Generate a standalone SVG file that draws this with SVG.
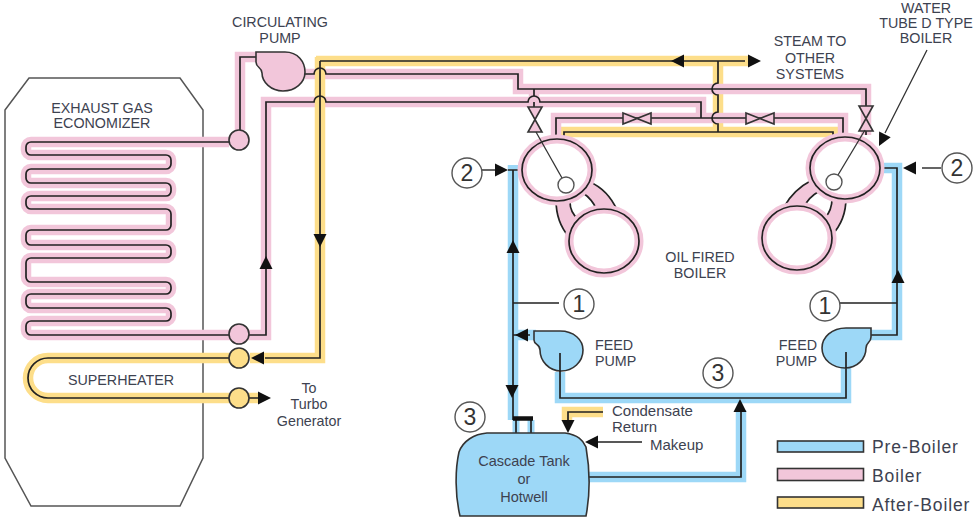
<svg xmlns="http://www.w3.org/2000/svg" width="974" height="517" viewBox="0 0 974 517">
<style>
text{font-family:"Liberation Sans",Arial,sans-serif;font-size:14.3px;fill:#3d4250}
.m{text-anchor:middle}
.n{font-size:15px}
.leg{font-size:17.500px;letter-spacing:.9px}
.num{font-size:23px;text-anchor:middle;fill:#333}
.b{fill:none;stroke-width:10.500;stroke-linejoin:miter}
.pk{stroke:#f2c6da}.bl{stroke:#9dd8f7}.yl{stroke:#fdde8a}
.l{fill:none;stroke:#222;stroke-width:1.7}
.thin{fill:none;stroke:#333;stroke-width:1.3}
.fp{fill:#f2c6da}.fb{fill:#9dd8f7}.fy{fill:#fdde8a}
.o{stroke:#333;stroke-width:1.6}
.c{fill:#fff;stroke:#555;stroke-width:1.4}
</style>
<defs>
<polygon id="ah" points="0,0 -13,-6.500 -13,6.500" fill="#111"/>
<path id="coil" d="M229,142H31a5,5 0 0 0 -5,5V150a5,5 0 0 0 5,5H166a5,5 0 0 1 5,5V164a5,5 0 0 1 -5,5H31a5,5 0 0 0 -5,5V178a5,5 0 0 0 5,5H166a5,5 0 0 1 5,5V191a5,5 0 0 1 -5,5H31a5,5 0 0 0 -5,5V204a5,5 0 0 0 5,5H166a5,5 0 0 1 5,5V225a5,5 0 0 1 -5,5H31a5,5 0 0 0 -5,5V240a5,5 0 0 0 5,5H166a5,5 0 0 1 5,5V253a5,5 0 0 1 -5,5H31a5,5 0 0 0 -5,5V277a5,5 0 0 0 5,5H166a5,5 0 0 1 5,5V289a5,5 0 0 1 -5,5H31a5,5 0 0 0 -5,5V303a5,5 0 0 0 5,5H166a5,5 0 0 1 5,5V316a5,5 0 0 1 -5,5H31a5,5 0 0 0 -5,5V330a5,5 0 0 0 5,5H229"/>
</defs>

<g id="casing"><polygon points="5,110 29,78 180,78 203,110 203,458 180,506 31,506 5,458" fill="none" stroke="#555" stroke-width="1.500"/></g>

<g id="connectors">
<path class="b yl" d="M316,61H750M718,61V132M564,137V132H833V137"/>
<use href="#coil" class="b pk"/>
<path class="b pk" d="M229,335H266V102H701V118M240,130V57H258M305,74H518V89H866V135M556,137V118H843V135M534,89V107"/>
<path class="b yl" d="M320,57V358H250M229,358H48a20,20 0 0 0 0,40H229M248,398H258"/>
<path class="b bl" d="M513,165V420M513,335H536M560,372V398H846V368M871,335H897V168H884M588,477H741V410"/>
<path d="M516,420V433M531,420V433" class="bl" stroke-width="7" fill="none"/>
<path class="b yl" d="M603,412H567V421"/>

<use href="#coil" class="l"/>
<path class="l" d="M229,335H266V102H314a6,6 0 0 1 12,0H528a6,6 0 0 1 12,0H701V118"/>
<path class="l" d="M240,130V57H257M305,74H314a6,6 0 0 1 12,0H518V89H866V107M866,131V135M534,89V96M534,102V107M843,135V118H556V137"/>
<path class="l" d="M320,61H745M718,61V83a6,6 0 0 0 0,12V112a6,6 0 0 0 0,12V132M564,137V132H833V137"/>
<path class="l" d="M320,61V358H265M229,358H48a20,20 0 0 0 0,40H229M249,398H258"/>
<path class="l" d="M513,170V420M513,335H530M560,353V398H846V352M871,335H897V168H880M588,477H741V410M513,303H559M840,303H897M516,420V433M531,420V433"/>
<path d="M513,418.500H533" stroke="#111" stroke-width="4.500" fill="none"/>
<path class="l" d="M603,412H568V425M642,442H595M508,170H522"/>
<path class="thin" d="M482,170H495M922,168H941M927,50L885,133"/>

<use href="#ah" transform="translate(320,247) rotate(90)"/>
<use href="#ah" transform="translate(266,256) rotate(-90)"/>
<use href="#ah" transform="translate(251,358) rotate(180)"/>
<use href="#ah" transform="translate(271,398)"/>
<use href="#ah" transform="translate(671,61) rotate(180)"/>
<use href="#ah" transform="translate(761,61)"/>
<use href="#ah" transform="translate(508,170)"/>
<use href="#ah" transform="translate(903,168) rotate(180)"/>
<use href="#ah" transform="translate(879,146) rotate(117)"/>
<use href="#ah" transform="translate(513,240) rotate(-90)"/>
<use href="#ah" transform="translate(898,270) rotate(-90)"/>
<use href="#ah" transform="translate(515,335) rotate(180)"/>
<use href="#ah" transform="translate(512,398) rotate(90)"/>
<use href="#ah" transform="translate(740,399) rotate(-90)"/>
<use href="#ah" transform="translate(568,433) rotate(90)"/>
<use href="#ah" transform="translate(585,442) rotate(180)"/>
</g>

<g id="header-circles">
<circle cx="239" cy="140" r="10" class="fp o"/>
<circle cx="239" cy="334" r="10" class="fp o"/>
<circle cx="239" cy="358" r="10" class="fy o"/>
<circle cx="239" cy="398" r="10" class="fy o"/>
</g>

<g id="circulating-pump">
<path class="fp o" d="M256,52H285C298,52 305,62 305,72C305,83 295,91 283,91C271,91 262,82 262,73C262,67 256,68 256,62Z"/>
</g>

<g id="valves">
<path class="fp o" d="M623,113L651,124V113L623,124Z"/>
<path class="fp o" d="M746,113L774,124V113L746,124Z"/>
<path class="fp o" d="M528,107H542L528,132H542Z"/>
<path class="fp o" d="M859,106H873L859,131H873Z"/>
</g>

<g id="left-boiler">
<path class="fp" d="M556,200Q556,222 569,237L578,219Q570,212 570,202ZM590,182Q608,190 617,210L597,210Q592,199 583,193Z"/>
<path class="l" d="M556,200Q556,222 569,237M578,219Q570,212 570,202M590,182Q608,190 617,210M597,210Q592,199 583,193"/>
<ellipse cx="557" cy="170" rx="35" ry="31" fill="#fff" stroke="#f2c6da" stroke-width="9"/>
<ellipse cx="557" cy="170" rx="35" ry="31" class="l"/>
<ellipse cx="604" cy="241" rx="35" ry="32" fill="#fff" stroke="#f2c6da" stroke-width="9"/>
<ellipse cx="604" cy="241" rx="35" ry="32" class="l"/>
<path class="thin" d="M536,132L562,178"/>
<circle cx="566" cy="185" r="8" class="c"/>
</g>

<g id="right-boiler">
<path class="fp" d="M812,180Q793,190 784,207L804,207Q809,197 818,192ZM846,198Q846,220 832,235L825,218Q832,210 832,199Z"/>
<path class="l" d="M812,180Q793,190 784,207M804,207Q809,197 818,192M846,198Q846,220 832,235M825,218Q832,210 832,199"/>
<ellipse cx="845" cy="168" rx="35" ry="31" fill="#fff" stroke="#f2c6da" stroke-width="9"/>
<ellipse cx="845" cy="168" rx="35" ry="31" class="l"/>
<ellipse cx="797" cy="238" rx="35" ry="32" fill="#fff" stroke="#f2c6da" stroke-width="9"/>
<ellipse cx="797" cy="238" rx="35" ry="32" class="l"/>
<path class="thin" d="M865,130L838,175"/>
<circle cx="834" cy="182" r="8" class="c"/>
</g>

<g id="feed-pump-left">
<path class="fb o" d="M534,331H560C574,331 583,340 583,350C583,362 573,371 561,371C549,371 540,361 540,350C540,344 534,345 534,340Z"/>
<path class="l" d="M560,353V372"/>
</g>
<g id="feed-pump-right">
<path class="fb o" d="M871,328H846C832,328 822,337 822,348C822,360 833,368 845,368C857,368 866,359 866,348C866,342 871,343 871,337Z"/>
<path class="l" d="M846,352V368"/>
</g>
<g id="cascade-tank">
<path class="fb o" d="M487,433H565C578,435 583,440 586,447C590,470 590,495 586,516H460C455,495 455,470 459,452C463,441 474,434 487,433Z"/>
<text class="m" x="524" y="466" style="font-size:14.500px">Cascade Tank</text>
<text class="m" x="524" y="484" style="font-size:14.500px">or</text>
<text class="m" x="524" y="502" style="font-size:14.500px">Hotwell</text>
</g>

<g id="callouts">
<circle cx="467" cy="173" r="15" class="c"/><text class="num" x="467" y="181">2</text>
<circle cx="957" cy="168" r="15" class="c"/><text class="num" x="957" y="176">2</text>
<circle cx="579" cy="304" r="15" class="c"/><text class="num" x="579" y="312">1</text>
<circle cx="825" cy="306" r="15" class="c"/><text class="num" x="825" y="314">1</text>
<circle cx="718" cy="373" r="15" class="c"/><text class="num" x="718" y="381">3</text>
<circle cx="470" cy="417" r="15" class="c"/><text class="num" x="470" y="425">3</text>
</g>

<g id="labels">
<text class="m" x="280" y="27">CIRCULATING</text><text class="m" x="280" y="43">PUMP</text>
<text class="m" x="102" y="113">EXHAUST GAS</text><text class="m" x="102" y="128">ECONOMIZER</text>
<text class="m" x="121" y="385">SUPERHEATER</text>
<text class="m" x="309" y="393">To</text><text class="m" x="309" y="409">Turbo</text><text class="m" x="309" y="426">Generator</text>
<text class="m" x="810" y="46">STEAM TO</text><text class="m" x="810" y="63">OTHER</text><text class="m" x="810" y="79">SYSTEMS</text>
<text class="m" x="926" y="13">WATER</text><text class="m" x="926" y="28">TUBE D TYPE</text><text class="m" x="926" y="43">BOILER</text>
<text class="m" x="700" y="262">OIL FIRED</text><text class="m" x="700" y="278">BOILER</text>
<text x="595" y="350">FEED</text><text x="595" y="366">PUMP</text>
<text x="817" y="350" text-anchor="end">FEED</text><text x="817" y="366" text-anchor="end">PUMP</text>
<text class="n" x="612" y="416">Condensate</text><text class="n" x="612" y="432">Return</text>
<text class="n" x="650" y="450">Makeup</text>
</g>

<g id="legend">
<rect x="777.500" y="441" width="86" height="11" class="fb o"/><text class="leg" x="872" y="453">Pre-Boiler</text>
<rect x="777.500" y="468.500" width="86" height="12" class="fp o"/><text class="leg" x="872" y="482">Boiler</text>
<rect x="777.500" y="497" width="86" height="11" class="fy o"/><text class="leg" x="872" y="511">After-Boiler</text>
</g>
</svg>
